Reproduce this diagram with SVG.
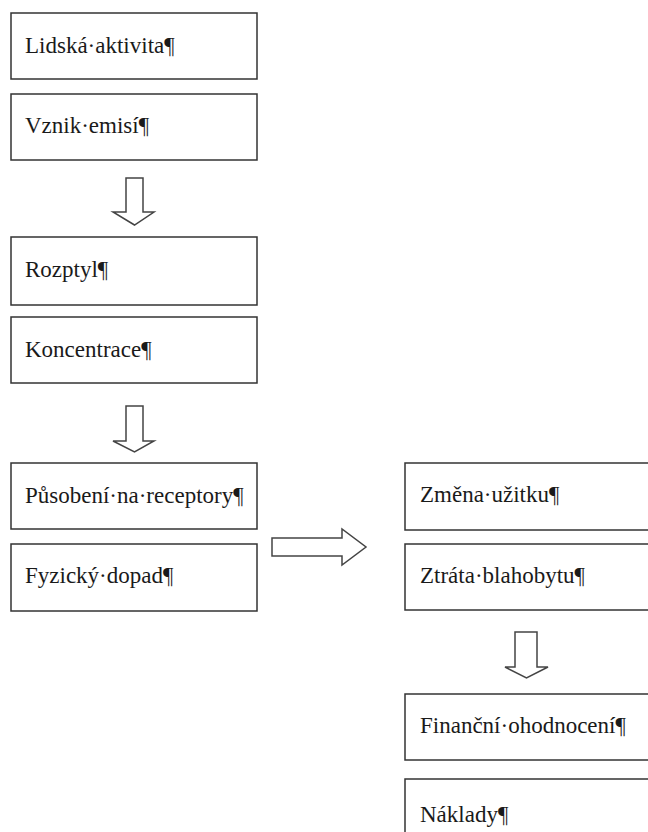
<svg xmlns="http://www.w3.org/2000/svg" width="648" height="832" viewBox="0 0 648 832">
<style>
.box{fill:#fff;stroke:#333;stroke-width:1.5}
.arr{fill:#fff;stroke:#444;stroke-width:1.5}
</style>
<rect width="648" height="832" fill="#fff"/>
<g id="n1"><rect class="box" x="11" y="13" width="246" height="66"/><text x="25" y="53" font-family="Times New Roman, Liberation Serif, serif" font-size="23" fill="#1a1a1a">Lidská·aktivita¶</text></g>
<g id="n2"><rect class="box" x="11" y="94" width="246" height="66"/><text x="25" y="133" font-family="Times New Roman, Liberation Serif, serif" font-size="23" fill="#1a1a1a">Vznik·emisí¶</text></g>
<g id="n3"><rect class="box" x="11" y="237" width="246" height="68"/><text x="25" y="277" font-family="Times New Roman, Liberation Serif, serif" font-size="23" fill="#1a1a1a">Rozptyl¶</text></g>
<g id="n4"><rect class="box" x="11" y="317" width="246" height="66"/><text x="25" y="357" font-family="Times New Roman, Liberation Serif, serif" font-size="23" fill="#1a1a1a">Koncentrace¶</text></g>
<g id="n5"><rect class="box" x="11" y="463" width="246" height="66"/><text x="25" y="503" font-family="Times New Roman, Liberation Serif, serif" font-size="23" fill="#1a1a1a">Působení·na·receptory¶</text></g>
<g id="n6"><rect class="box" x="11" y="544" width="246" height="67"/><text x="25" y="583" font-family="Times New Roman, Liberation Serif, serif" font-size="23" fill="#1a1a1a">Fyzický·dopad¶</text></g>
<g id="n7"><rect class="box" x="405" y="463" width="260" height="67"/><text x="420" y="502" font-family="Times New Roman, Liberation Serif, serif" font-size="23" fill="#1a1a1a">Změna·užitku¶</text></g>
<g id="n8"><rect class="box" x="405" y="544" width="260" height="66"/><text x="420" y="583" font-family="Times New Roman, Liberation Serif, serif" font-size="23" fill="#1a1a1a">Ztráta·blahobytu¶</text></g>
<g id="n9"><rect class="box" x="405" y="694" width="260" height="66"/><text x="420" y="733" font-family="Times New Roman, Liberation Serif, serif" font-size="23" fill="#1a1a1a">Finanční·ohodnocení¶</text></g>
<g id="n10"><rect class="box" x="405" y="779" width="260" height="70"/><text x="420" y="822" font-family="Times New Roman, Liberation Serif, serif" font-size="23" fill="#1a1a1a">Náklady¶</text></g>
<g id="connectors">
<path class="arr" d="M126,178 H143 V212 H154 L134.5,225 L113,212 H126 Z"/>
<path class="arr" d="M126,406 H143 V441 H154 L134.5,452 L113,441 H126 Z"/>
<path class="arr" d="M515,632 H537 V667 H548 L526.5,678 L505,667 H515 Z"/>
<path class="arr" d="M272,538 H342 V529 L366,547 L342,565 V556 H272 Z"/>
</g>
</svg>
